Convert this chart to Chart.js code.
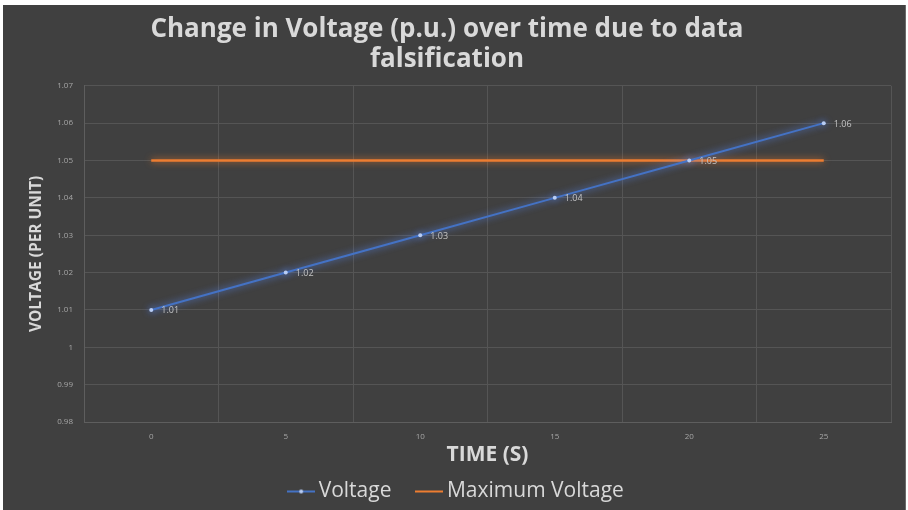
<!DOCTYPE html>
<html>
<head>
<meta charset="utf-8">
<script src="https://cdn.jsdelivr.net/npm/chart.js@4"></script>
<style>
  html, body { margin: 0; padding: 0; background: #ffffff; width: 908px; height: 510px; overflow: hidden; }
  #wrap { position: absolute; left: 3px; top: 5px; width: 902px; height: 505px; background: #404040; border-right: 1px solid #6a6a6a; }
  canvas { display: block; }
</style>
</head>
<body>
<div id="wrap"><canvas id="c" width="902" height="505"></canvas></div>
<script>
const timeLabels = ['0', '5', '10', '15', '20', '25'];
const voltage = [1.01, 1.02, 1.03, 1.04, 1.05, 1.06];
const maxVoltage = [1.05, 1.05, 1.05, 1.05, 1.05, 1.05];
const yTicks = { min: 0.98, max: 1.07, step: 0.01 };

const FONT = "'Open Sans', 'DejaVu Sans', sans-serif";
const BLUE = '#4472C4';
const ORANGE = '#ED7D31';

function legendImg(color, dot) {
  const c = document.createElement('canvas');
  c.width = 28; c.height = 8;
  const g = c.getContext('2d');
  g.strokeStyle = color; g.lineWidth = 2;
  g.beginPath(); g.moveTo(0, 4); g.lineTo(28, 4); g.stroke();
  if (dot) {
    g.fillStyle = '#b8cdf5';
    g.beginPath(); g.arc(14, 4, 2, 0, Math.PI * 2); g.fill();
  }
  return c;
}
const legendImgs = [legendImg(BLUE, true), legendImg(ORANGE, false)];

const glow = {
  id: 'glow',
  beforeDatasetDraw(chart, args) {
    const ctx = chart.ctx;
    ctx.save();
    ctx.shadowColor = args.index === 0 ? 'rgba(90,140,255,0.9)' : 'rgba(255,130,40,0.8)';
    ctx.shadowBlur = 7;
  },
  afterDatasetDraw(chart) { chart.ctx.restore(); }
};

const dataLabels = {
  id: 'dataLabels',
  afterDatasetsDraw(chart) {
    const ctx = chart.ctx;
    const meta = chart.getDatasetMeta(0);
    ctx.save();
    ctx.font = "9px " + FONT;
    ctx.fillStyle = '#c4c4c4';
    ctx.textAlign = 'left';
    ctx.textBaseline = 'middle';
    meta.data.forEach((pt, i) => {
      ctx.fillText(voltage[i].toFixed(2), pt.x + 10, pt.y + 1);
    });
    ctx.restore();
  }
};

const legendShift = {
  id: 'legendShift',
  afterLayout(chart) {
    const lg = chart.legend;
    if (lg) { lg.top += 2; lg.bottom += 2; lg.left += 12; lg.right += 12; }
  }
};

new Chart(document.getElementById('c'), {
  type: 'line',
  data: {
    labels: timeLabels,
    datasets: [
      {
        label: 'Voltage',
        data: voltage,
        borderColor: BLUE,
        backgroundColor: BLUE,
        borderWidth: 2,
        pointRadius: 2,
        pointBackgroundColor: '#b8cdf5',
        pointBorderColor: '#b8cdf5',
        pointBorderWidth: 0,
        tension: 0,
        order: 0
      },
      {
        label: 'Maximum Voltage',
        data: maxVoltage,
        borderColor: ORANGE,
        backgroundColor: ORANGE,
        borderWidth: 2.5,
        pointRadius: 0,
        tension: 0,
        order: 1
      }
    ]
  },
  options: {
    responsive: false,
    animation: false,
    layout: { padding: { left: 0, right: 14, top: 0, bottom: 0 } },
    plugins: {
      title: {
        display: true,
        text: ['Change in Voltage (p.u.) over time due to data', 'falsification'],
        color: '#d9d9d9',
        font: { family: FONT, size: 26, weight: 'bold', lineHeight: 1.15 },
        padding: { top: 10, bottom: 11 }
      },
      legend: {
        position: 'bottom',
        labels: {
          color: '#d9d9d9',
          font: { family: FONT, size: 21 },
          usePointStyle: true,
          pointStyleWidth: 14,
          boxHeight: 8,
          padding: 31,
          generateLabels(chart) {
            const items = Chart.defaults.plugins.legend.labels.generateLabels(chart);
            items.forEach((it, i) => { it.pointStyle = legendImgs[i]; });
            return items;
          }
        }
      },
      tooltip: { enabled: false }
    },
    scales: {
      x: {
        type: 'category',
        offset: true,
        grid: { color: '#555555', lineWidth: 1, offset: true, drawTicks: false },
        border: { color: '#5e5e5e' },
        ticks: { color: '#a6a6a6', font: { family: FONT, size: 8 }, padding: 10 },
        title: {
          display: true,
          text: 'TIME (S)',
          color: '#d9d9d9',
          font: { family: FONT, size: 21, weight: 'bold', lineHeight: 1.2 },
          padding: { top: 0, bottom: -20 }
        },
        afterFit(s) { s.height = 26; }
      },
      y: {
        min: yTicks.min,
        max: yTicks.max,
        grid: { color: '#555555', lineWidth: 1, drawTicks: false },
        border: { color: '#5e5e5e' },
        ticks: {
          stepSize: yTicks.step,
          color: '#a6a6a6',
          font: { family: FONT, size: 8 },
          padding: 11,
          callback: v => String(Number(Number(v).toFixed(2)))
        },
        title: {
          display: true,
          text: 'VOLTAGE (PER UNIT)',
          color: '#d9d9d9',
          font: { family: FONT, size: 15.5, weight: 'bold', lineHeight: 1.2 },
          padding: { top: 24, bottom: 0 }
        },
        afterFit(s) { s.width = 81; }
      }
    }
  },
  plugins: [glow, dataLabels, legendShift]
});
</script>
</body>
</html>
